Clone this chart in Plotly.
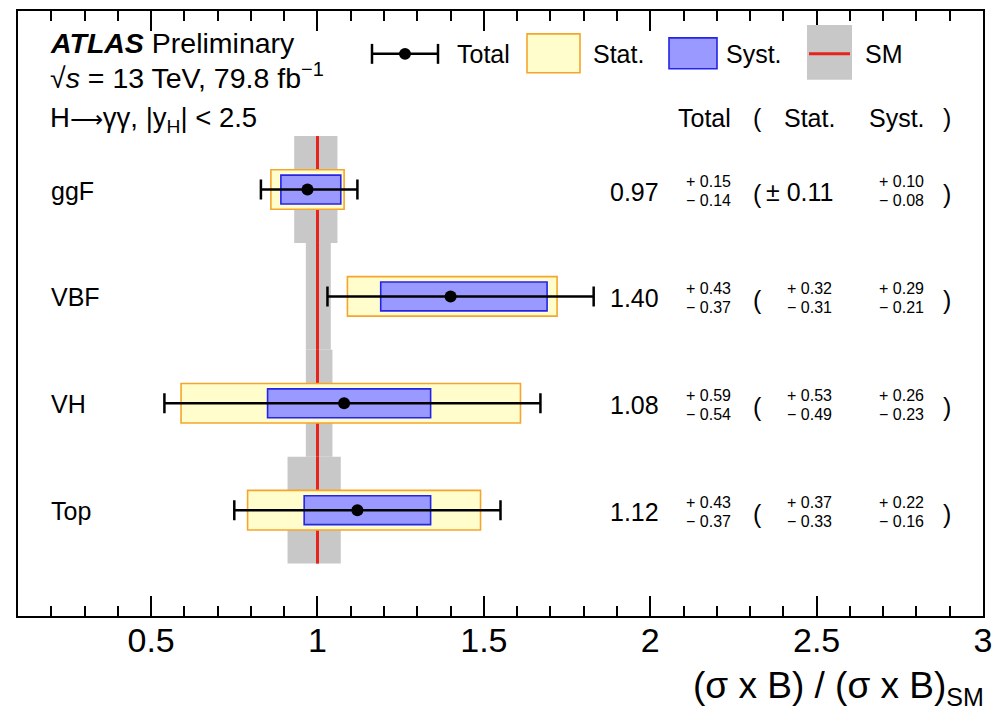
import plotly.graph_objects as go

# ---------------- data ----------------
categories = ["ggF", "VBF", "VH", "Top"]
row_pos = [4, 3, 2, 1]
central = [0.97, 1.40, 1.08, 1.12]
tot_up = [0.15, 0.43, 0.59, 0.43]
tot_dn = [0.14, 0.37, 0.54, 0.37]
stat_up = [0.11, 0.32, 0.53, 0.37]
stat_dn = [0.11, 0.31, 0.49, 0.33]
syst_up = [0.10, 0.29, 0.26, 0.22]
syst_dn = [0.08, 0.21, 0.23, 0.16]
sm_value = 1.0
sm_up = [0.06, 0.04, 0.045, 0.07]
sm_dn = [0.07, 0.035, 0.035, 0.09]
x_ticks = [0.5, 1, 1.5, 2, 2.5, 3]
x_tick_labels = ["0.5", "1", "1.5", "2", "2.5", "3"]

FONT = "Liberation Sans, Arial, Helvetica, sans-serif"
W, H = 1006, 715
L, R, T, B = 18, 23, 9, 99

def px(x):
    return (x - L) / (W - L - R)

def py(y):
    return (H - B - y) / (H - T - B)

fig = go.Figure()

# SM uncertainty band (grey)
fig.add_trace(go.Bar(
    y=row_pos, x=[u + d for u, d in zip(sm_up, sm_dn)],
    base=[sm_value - d for d in sm_dn], orientation="h", width=1.0,
    marker=dict(color="#c8c8c8", line=dict(width=0)), hoverinfo="skip"))
# SM line (red)
sm_line_w = 0.009
fig.add_trace(go.Bar(
    y=row_pos, x=[sm_line_w] * len(row_pos),
    base=[sm_value - sm_line_w / 2] * len(row_pos), orientation="h", width=1.0,
    marker=dict(color="#e8231c", line=dict(width=0)), hoverinfo="skip"))
# Stat box
fig.add_trace(go.Bar(
    y=row_pos, x=[u + d for u, d in zip(stat_up, stat_dn)],
    base=[c - d for c, d in zip(central, stat_dn)], orientation="h", width=0.37,
    marker=dict(color="#fffdcc", line=dict(color="#f6a52c", width=1.6)), hoverinfo="skip"))
# Syst box
fig.add_trace(go.Bar(
    y=row_pos, x=[u + d for u, d in zip(syst_up, syst_dn)],
    base=[c - d for c, d in zip(central, syst_dn)], orientation="h", width=0.27,
    marker=dict(color="#9999ff", line=dict(color="#2424e8", width=1.6)), hoverinfo="skip"))
# Total
fig.add_trace(go.Scatter(
    x=central, y=row_pos, mode="markers",
    marker=dict(color="black", size=12),
    error_x=dict(type="data", symmetric=False, array=tot_up, arrayminus=tot_dn,
                 color="black", thickness=2.5, width=10),
    hoverinfo="skip"))

ann = []
def text(x, y, s, size, xanchor="left", yref="paper", yshift=0):
    ann.append(dict(x=x, y=y, xref="paper", yref=yref, text=s, showarrow=False,
                    xanchor=xanchor, yanchor="middle", yshift=yshift,
                    font=dict(family=FONT, size=size, color="black")))

# header texts
text(px(48), py(41), "<b><i>ATLAS</i></b> Preliminary", 28.5)
text(px(48), py(74), "√<i>s</i> = 13 TeV, 79.8 fb<sup>−1</sup>", 28.5)
text(px(48), py(118),
     "H<span style='font-family:DejaVu Sans;font-size:23px'>⟶</span>γγ, |y<sub>H</sub>| &lt; 2.5", 27.5)

# table header
text(px(704), py(116), "Total", 25, "center")
text(px(757), py(116), "(", 25, "center")
text(px(809), py(116), "Stat.", 25, "center")
text(px(897), py(116), "Syst.", 25, "center")
text(px(947), py(116), ")", 25, "center")

# rows
for i, cat in enumerate(categories):
    yv = row_pos[i]
    text(px(49), yv, cat, 25, "left", "y", -1)
    text(px(661), yv, f"{central[i]:.2f}", 25, "right", "y", -2)
    text(px(684), yv, f"+ {tot_up[i]:.2f}", 16, "left", "y", 8)
    text(px(684), yv, f"− {tot_dn[i]:.2f}", 16, "left", "y", -11)
    text(px(757), yv, "(", 25, "center", "y", -4)
    if abs(stat_up[i] - stat_dn[i]) < 1e-9:
        text(px(764), yv, f"± {stat_up[i]:.2f}", 25, "left", "y", -2)
    else:
        text(px(785), yv, f"+ {stat_up[i]:.2f}", 16, "left", "y", 8)
        text(px(785), yv, f"− {stat_dn[i]:.2f}", 16, "left", "y", -11)
    text(px(877), yv, f"+ {syst_up[i]:.2f}", 16, "left", "y", 8)
    text(px(877), yv, f"− {syst_dn[i]:.2f}", 16, "left", "y", -11)
    text(px(947), yv, ")", 25, "center", "y", -4)

# legend
text(px(455), py(52), "Total", 25)
text(px(591), py(52), "Stat.", 25)
text(px(724), py(52), "Syst.", 25)
text(px(863), py(52), "SM", 25)

# axis title
ann.append(dict(x=px(986), y=py(688), xref="paper", yref="paper",
                text="(σ x B) / (σ x B)<sub><span style='font-size:25px'>SM</span></sub>",
                showarrow=False, xanchor="right", yanchor="middle",
                font=dict(family=FONT, size=37, color="black")))

shapes = []
def rect(x0, y0, x1, y1, fill, line, lw):
    shapes.append(dict(type="rect", xref="paper", yref="paper",
                       x0=px(x0), x1=px(x1), y0=py(y0), y1=py(y1),
                       fillcolor=fill, line=dict(color=line, width=lw)))
def seg(x0, y0, x1, y1, color, lw):
    shapes.append(dict(type="line", xref="paper", yref="paper",
                       x0=px(x0), x1=px(x1), y0=py(y0), y1=py(y1),
                       line=dict(color=color, width=lw)))

seg(372, 52, 438, 52, "black", 2.5)
seg(372, 42, 372, 62, "black", 2.5)
seg(438, 42, 438, 62, "black", 2.5)
shapes.append(dict(type="circle", xref="paper", yref="paper",
                   x0=px(399), x1=px(411), y0=py(46), y1=py(58),
                   fillcolor="black", line=dict(color="black", width=0)))
rect(527, 32, 580, 71, "#fffdcc", "#f6a52c", 1.6)
rect(669, 36, 717, 67, "#9999ff", "#2424e8", 1.6)
rect(807, 23, 852, 78, "#c8c8c8", "#c8c8c8", 0)
seg(809, 52, 850, 52, "#e8231c", 3)

fig.update_layout(
    width=W, height=H, margin=dict(l=L, r=R, t=T, b=B),
    paper_bgcolor="white", plot_bgcolor="white",
    barmode="overlay", showlegend=False,
    annotations=ann, shapes=shapes,
    font=dict(family=FONT, color="black"),
)
fig.update_xaxes(
    range=[0.1, 3.0], tickvals=x_ticks, ticktext=x_tick_labels,
    ticks="inside", ticklen=20, tickwidth=1.5, tickcolor="black",
    minor=dict(dtick=0.1, tick0=0, ticks="inside", ticklen=10, tickwidth=1.5, tickcolor="black"),
    showline=True, linewidth=2, linecolor="black", mirror="ticks",
    showgrid=False, zeroline=False,
    tickfont=dict(family=FONT, size=34, color="black"), ticklabelstandoff=-7,
)
fig.update_yaxes(
    range=[0.01, 5.67], showticklabels=False, ticks="",
    showline=True, linewidth=2, linecolor="black", mirror=True,
    showgrid=False, zeroline=False,
)

fig.write_html("out.html")
